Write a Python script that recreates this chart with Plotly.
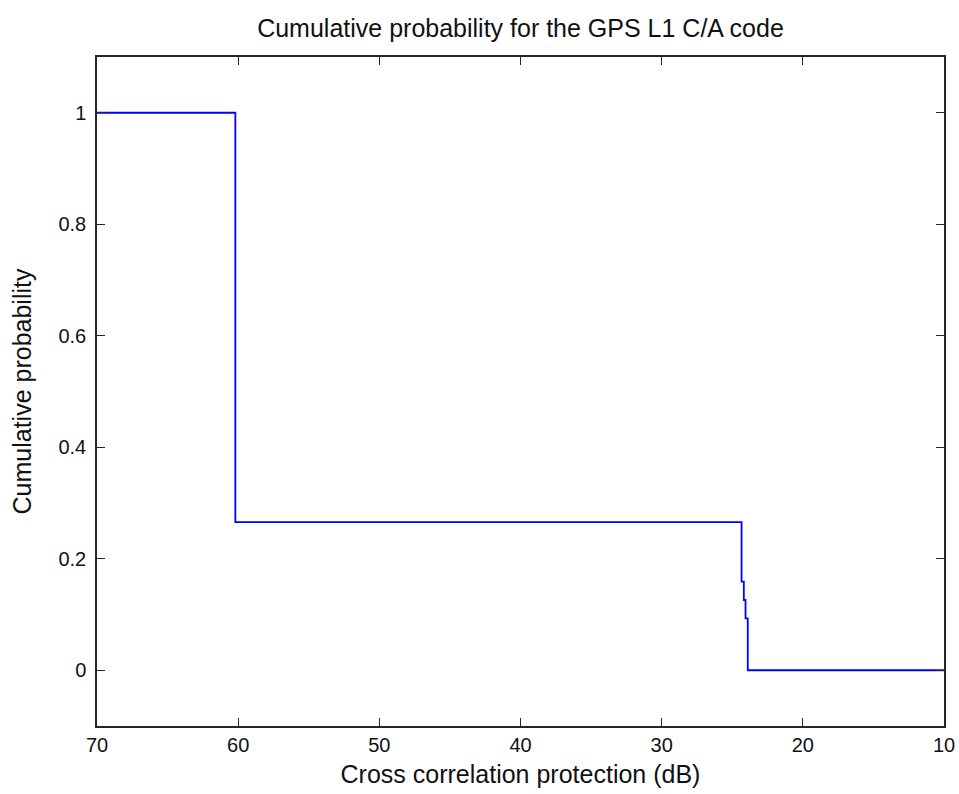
import plotly.graph_objects as go

# Cross-correlation protection steps (dB) and cumulative probability levels
protection_db = [70, 60.2, 24.34, 24.18, 24.06, 23.9, 10]
cum_prob = [1.0, 0.2656, 0.159, 0.126, 0.093, 0.0, 0.0]

x_ticks = [70, 60, 50, 40, 30, 20, 10]
y_ticks = [0, 0.2, 0.4, 0.6, 0.8, 1]
y_tick_text = ["0", "0.2", "0.4", "0.6", "0.8", "1"]

font_family = "Liberation Sans, Arial, sans-serif"

fig = go.Figure()
fig.add_trace(go.Scatter(
    x=protection_db, y=cum_prob, mode="lines",
    line=dict(color="#0000ff", width=1.8, shape="hv"),
    showlegend=False, hoverinfo="skip",
))

axis_common = dict(
    showgrid=False, zeroline=False, showline=True, mirror="ticks",
    linecolor="#262626", linewidth=1.5, ticks="inside", ticklen=8,
    tickwidth=1.2, tickcolor="#262626", automargin=False,
    tickfont=dict(family=font_family, size=20, color="#111111"),
)

fig.update_layout(
    width=959, height=794,
    paper_bgcolor="white", plot_bgcolor="white",
    margin=dict(l=97, r=15, t=57, b=68),
    title=dict(
        text="Cumulative probability for the GPS L1 C/A code",
        x=(97 + 944) / 2 / 959, xanchor="center", y=1 - 28 / 794, yanchor="middle",
        font=dict(family=font_family, size=25, color="#111111"),
    ),
    xaxis=dict(
        range=[70, 10], tickvals=x_ticks,
        title=dict(text="Cross correlation protection (dB)", standoff=11,
                   font=dict(family=font_family, size=25, color="#111111")),
        **axis_common,
    ),
    yaxis=dict(
        range=[-0.1, 1.1], tickvals=y_ticks, ticktext=y_tick_text,
        ticklabelstandoff=5,
        title=dict(text="Cumulative probability", standoff=20,
                   font=dict(family=font_family, size=25, color="#111111")),
        **axis_common,
    ),
)

fig.write_html("out.html")
